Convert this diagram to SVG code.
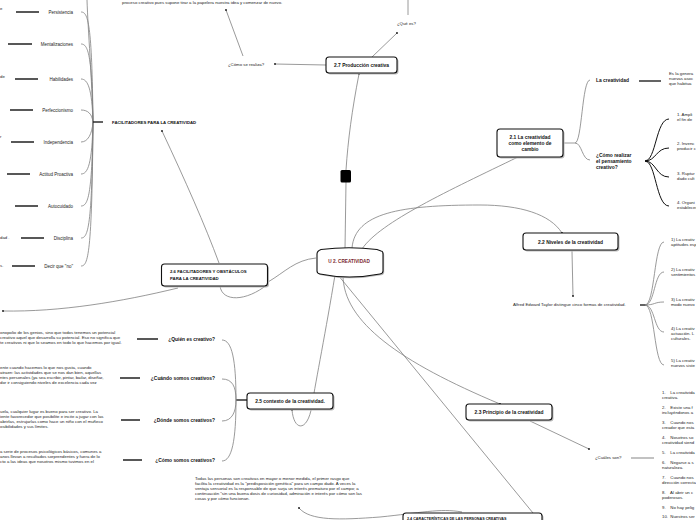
<svg xmlns="http://www.w3.org/2000/svg" width="696" height="520" viewBox="0 0 696 520">
<style>
text{font-family:"Liberation Sans",Arial,sans-serif;fill:#222}
.s{font-size:4.3px}
.it{font-size:4.5px}
.b{font-weight:bold;font-size:4.7px;fill:#111}
.q{font-weight:bold;font-size:4.9px;fill:#111}
.c{fill:none;stroke:#808080;stroke-width:0.8}
.k{fill:none;stroke:#222;stroke-width:1.4}
.kc{fill:none;stroke:#111;stroke-width:1}
.n{fill:#fff;stroke:#111;stroke-width:1.1}
.sh{fill:#bbb}
.d{fill:#111}
.pre{white-space:pre}
</style>
<rect width="696" height="520" fill="#fff"/>

<g id="connectors">
  <path class="c" d="M93,122 C92,80 88,30 87,0"/>
  <path class="c" d="M81,12 C88,12 92,22 93,122"/>
  <path class="c" d="M81,44 C88,44 92,54 93,122"/>
  <path class="c" d="M81,79 C88,79 92,89 93,122"/>
  <path class="c" d="M81,110 C88,110 92,114 93,122"/>
  <path class="c" d="M81,142 C88,142 92,134 93,122"/>
  <path class="c" d="M81,174 C88,174 92,164 93,122"/>
  <path class="c" d="M81,206 C88,206 92,196 93,122"/>
  <path class="c" d="M81,238 C88,238 92,228 93,122"/>
  <path class="c" d="M81,266 C88,266 92,256 93,122"/>
  <path class="k" d="M93,122 L103,122"/>
  <path class="k" d="M16,12 L39,12 M8,44 L32,44 M15,79 L38,79 M10,110 L33,110 M11,142 L34,142 M7,174 L30,174 M15,206 L38,206 M21,238 L44,238 M12,266 L35,266"/>
  <path class="c" d="M162,131 C185,180 205,225 219,263"/>
  <circle class="d" cx="162" cy="131" r="0.9"/>
  <path class="c" d="M178,288 C120,302 60,312 3,311"/>
  <circle class="d" cx="3" cy="311" r="0.9"/>
  <path class="c" d="M220,286 C222,302 246,302 268,284"/>
  <path class="c" d="M316,258 C295,260 285,272 268,282"/>
  <path class="c" d="M345,249 L346,182"/>
  <path class="c" d="M346,170 C348,140 352,110 359,74"/>
  <circle class="d" cx="359" cy="74" r="0.9"/>
  <path class="c" d="M326,65 L275,64"/>
  <circle class="d" cx="275" cy="64" r="0.9"/>
  <path class="c" d="M243,56 L226,10"/>
  <circle class="d" cx="226" cy="10" r="0.9"/>
  <path class="c" d="M372,57 L397,33"/>
  <circle class="d" cx="397" cy="33" r="0.9"/>
  <path class="c" d="M408,0 L408,15"/>
  <path class="c" d="M362,249 C380,222 450,190 518,157"/>
  <circle class="d" cx="518" cy="157" r="0.9"/>
  <path class="c" d="M352,248 C355,213 400,205 480,205 C520,205 550,214 562,233"/>
  <circle class="d" cx="562" cy="233" r="0.9"/>
  <path class="c" d="M563,143 L575,143 C582,143 582,80 590,80"/>
  <path class="c" d="M575,143 C582,143 582,160 590,160"/>
  <path class="k" d="M639,81 L661,81"/>
  <path class="kc" d="M645,161 C656,161 656,119 669,119"/>
  <path class="kc" d="M645,161 C656,161 656,148 669,148"/>
  <path class="kc" d="M645,161 C656,161 656,177 669,177"/>
  <path class="kc" d="M645,161 C656,161 656,206 669,206"/>
  <circle class="d" cx="647" cy="161" r="1.3"/>
  <path class="c" d="M572,251 L573,296"/>
  <circle class="d" cx="573" cy="296" r="0.9"/>
  <path class="k" d="M640,305 L646,305"/>
  <path class="c" d="M645,305 C655,305 654,242 664,242"/>
  <path class="c" d="M645,305 C655,305 654,272 664,272"/>
  <path class="c" d="M645,305 C655,305 654,302 664,302"/>
  <path class="c" d="M645,305 C655,305 654,332 664,332"/>
  <path class="c" d="M645,305 C655,305 654,365 664,365"/>
  <path class="c" d="M335,275 C326,330 316,380 312,405 C308,432 294,432 292,410"/>
  <circle class="d" cx="292" cy="410" r="0.9"/>
  <path class="c" d="M338,275 L533,513"/>
  <path class="c" d="M343,275 C343,322 400,362 500,404"/>
  <circle class="d" cx="500" cy="404" r="0.9"/>
  <path class="c" d="M530,421 L589,449"/>
  <circle class="d" cx="589" cy="449" r="0.9"/>
  <path d="M631,458 L654,458" stroke="#999" stroke-width="1.2" fill="none"/>
  <path class="c" d="M299,508 C310,521 340,520 380,517 C420,513 440,508 462,512"/>
  <circle class="d" cx="299" cy="508" r="0.9"/>
  <path class="k" d="M236,400 L247,400"/>
  <path class="c" d="M236,400 C236,360 232,340 222,340"/>
  <path class="c" d="M236,400 C236,386 232,379 222,379"/>
  <path class="c" d="M236,400 C236,412 232,421 222,421"/>
  <path class="c" d="M236,400 C236,440 232,461 222,461"/>
  <path class="k" d="M137,339 L158,339 M120,378 L140,378 M121,420 L140,420 M123,460 L142,460"/>
</g>

<g id="top-text">
  <text class="s" x="122" y="3.5">proceso creativo pues supone tirar a la papelera nuestra idea y comenzar de nuevo.</text>
</g>

<g id="facilitadores-items">
  <text class="s" x="0" y="10">e</text>
  <text class="s" x="0" y="78">de</text>
  <text class="s" x="0" y="138">r</text>
  <text class="s" x="0" y="239">dad .</text>
  <text class="s" x="0" y="267">s.</text>
  <text class="it" x="73" y="13.5" text-anchor="end">Persistencia</text>
  <text class="it" x="73" y="45.5" text-anchor="end">Mentalizaciones</text>
  <text class="it" x="73" y="80.5" text-anchor="end">Habilidades</text>
  <text class="it" x="73" y="111.5" text-anchor="end">Perfeccionismo</text>
  <text class="it" x="73" y="143.5" text-anchor="end">Independencia</text>
  <text class="it" x="73" y="175.5" text-anchor="end">Actitud Proactiva</text>
  <text class="it" x="73" y="207.5" text-anchor="end">Autocuidado</text>
  <text class="it" x="73" y="239.5" text-anchor="end">Disciplina</text>
  <text class="it" x="73" y="267.5" text-anchor="end">Decir que "no"</text>
</g>

<g id="facilitadores">
  <text class="b" x="112" y="123.5" style="font-size:4.3px">FACILITADORES PARA LA CREATIVIDAD</text>
</g>

<g id="node-26">
  <rect class="sh" x="163" y="265.5" width="106" height="22" rx="3"/>
  <rect class="n" x="161.5" y="264" width="106" height="22" rx="3"/>
  <text class="b" x="170" y="273" style="font-size:4.3px">2.6 FACILITADORES Y OBSTÁCULOS</text>
  <text class="b" x="170" y="279.5" style="font-size:4.3px">PARA LA CREATIVIDAD</text>
</g>

<g id="square">
  <rect x="340.5" y="170" width="10.5" height="12.5" rx="1.5" fill="#000"/>
</g>

<g id="node-u2">
  <path d="M321,249.5 Q349,246 377,249.5 L381,251 Q383,251 383,254 L383,271 Q383,273.5 380,274 Q349,280 320,274 Q317,273.5 317,271 L317,254 Q317,251 321,249.5 Z" fill="#bbb" transform="translate(1.2,1.2)"/>
  <path d="M321,249.5 Q349,246 377,249.5 L381,251 Q383,251 383,254 L383,271 Q383,273.5 380,274 Q349,280 320,274 Q317,273.5 317,271 L317,254 Q317,251 321,249.5 Z" fill="#fff" stroke="#111" stroke-width="1.1"/>
  <text class="q" x="349" y="263" text-anchor="middle" style="fill:#7a1f2e;font-size:4.7px">U 2. CREATIVIDAD</text>
</g>

<g id="node-27">
  <rect class="sh" x="327.5" y="58.5" width="71" height="16" rx="3"/>
  <rect class="n" x="326" y="57" width="71" height="16" rx="3"/>
  <text class="q" x="361.5" y="66.7" text-anchor="middle">2.7 Producción creativa</text>
</g>
<g id="como-realiza">
  <text class="s" x="228" y="65.5">¿Cómo se realiza?</text>
</g>
<g id="que-es">
  <text class="s" x="397" y="24.5">¿Qué es?</text>
</g>

<g id="node-21">
  <rect class="sh" x="498.5" y="130.5" width="66" height="28" rx="3"/>
  <rect class="n" x="497" y="129" width="66" height="28" rx="3"/>
  <text class="q" x="530" y="138.5" text-anchor="middle">2.1 La creatividad</text>
  <text class="q" x="530" y="144.8" text-anchor="middle">como elemento de</text>
  <text class="q" x="530" y="151.1" text-anchor="middle">cambio</text>
</g>
<g id="la-creatividad">
  <text class="q" x="596" y="81.5">La creatividad</text>
  <text class="s" x="669" y="75">Es la genera</text>
  <text class="s" x="669" y="80">nuevas asoc</text>
  <text class="s" x="669" y="85">que habitua</text>
</g>
<g id="como-realizar">
  <text class="q" x="596" y="156.5">¿Cómo realizar</text>
  <text class="q" x="596" y="162.5">el pensamiento</text>
  <text class="q" x="596" y="168.5">creativo?</text>
  <text class="s" x="677" y="116">1. Ampli</text>
  <text class="s" x="677" y="121">el fin de</text>
  <text class="s" x="677" y="145">2. Invenc</text>
  <text class="s" x="677" y="150">producir c</text>
  <text class="s" x="677" y="175">3. Ruptur</text>
  <text class="s" x="677" y="180">dado cult</text>
  <text class="s" x="677" y="204">4. Organi</text>
  <text class="s" x="677" y="209">establecer</text>
</g>

<g id="node-22">
  <rect class="sh" x="524.5" y="234.5" width="95" height="17" rx="3"/>
  <rect class="n" x="523" y="233" width="95" height="17" rx="3"/>
  <text class="q" x="570.5" y="243.5" text-anchor="middle">2.2 Niveles de la creatividad</text>
</g>
<g id="alfred">
  <text class="s" x="513" y="306">Alfred Edward Taylor distingue cinco formas de creatividad.</text>
  <text class="s" x="671" y="241">1) La creativ</text>
  <text class="s" x="671" y="246">aptitudes esp</text>
  <text class="s" x="671" y="271">2) La creativ</text>
  <text class="s" x="671" y="276">sentimientos</text>
  <text class="s" x="671" y="301">3) La creativ</text>
  <text class="s" x="671" y="306">modo nuevo</text>
  <text class="s" x="671" y="330">4) La creativ</text>
  <text class="s" x="671" y="335">actuación. L</text>
  <text class="s" x="671" y="340">culturales.</text>
  <text class="s" x="671" y="362">5) La creativ</text>
  <text class="s" x="671" y="367">nuevos siste</text>
</g>

<g id="node-23">
  <rect class="sh" x="467.5" y="405.5" width="86" height="16" rx="3"/>
  <rect class="n" x="466" y="404" width="86" height="16" rx="3"/>
  <text class="q" x="509" y="413.8" text-anchor="middle">2.3 Principio de la creatividad</text>
</g>
<g id="cuales">
  <text class="s" x="595" y="459">¿Cuáles son?</text>
  <text class="s pre" x="662" y="393.5">1.    La creativida</text>
  <text class="s" x="662" y="398.5">creativa.</text>
  <text class="s pre" x="662" y="408.5">2.    Existe una f</text>
  <text class="s" x="662" y="413.5">incluyéndonos a</text>
  <text class="s pre" x="662" y="423.5">3.    Cuando nos</text>
  <text class="s" x="662" y="428.5">creador que esta</text>
  <text class="s pre" x="662" y="438.5">4.    Nosotros so</text>
  <text class="s" x="662" y="443.5">creatividad siend</text>
  <text class="s pre" x="662" y="453.5">5.    La creativida</text>
  <text class="s pre" x="662" y="463.5">6.    Negarse a s</text>
  <text class="s" x="662" y="468.5">naturaleza.</text>
  <text class="s pre" x="662" y="478.5">7.    Cuando nos</text>
  <text class="s" x="662" y="483.5">dirección correcta</text>
  <text class="s pre" x="662" y="493.5">8.    Al abrir un c</text>
  <text class="s" x="662" y="498.5">poderosos.</text>
  <text class="s pre" x="662" y="508.5">9.    No hay pelig</text>
  <text class="s pre" x="662" y="518">10.  Nuestros ser</text>
</g>

<g id="node-24">
  <rect class="sh" x="404.5" y="514.5" width="139" height="14" rx="3"/>
  <rect class="n" x="403" y="513" width="139" height="14" rx="3"/>
  <text class="b" x="407" y="519.5" style="font-size:3.7px">2.4 CARACTERÍSTICAS DE LAS PERSONAS CREATIVAS</text>
</g>
<g id="todas">
  <text class="s" x="195" y="480">Todas las personas son creativas en mayor o menor medida, el primer rasgo que</text>
  <text class="s" x="195" y="485">facilita la creatividad es la "predisposición genética" para un campo dado.  A veces la</text>
  <text class="s" x="195" y="490">ventaja sensorial es la responsable de que surja un interés prematuro por el campo; a</text>
  <text class="s" x="195" y="495">continuación "sin una buena dosis de curiosidad, admiración e interés por cómo son las</text>
  <text class="s" x="195" y="500">cosas y por cómo funcionan.</text>
</g>

<g id="node-25">
  <rect class="sh" x="248.5" y="394.5" width="86" height="16" rx="3"/>
  <rect class="n" x="247" y="393" width="86" height="16" rx="3"/>
  <text class="q" x="290" y="402.6" text-anchor="middle">2.5 contexto de la creatividad.</text>
</g>
<g id="quien">
  <text class="q" x="215" y="340.5" text-anchor="end">¿Quién es creativo?</text>
  <text class="s" x="0" y="334">onopolio de los genios, sino que todos tenemos un potencial</text>
  <text class="s" x="0" y="339">creativo aquel que desarrolla su potencial. Eso no significa que</text>
  <text class="s" x="0" y="344">te creativos ni que lo seamos en todo lo que hacemos por igual.</text>
</g>
<g id="cuando">
  <text class="q" x="215" y="380" text-anchor="end">¿Cuándo somos creativos?</text>
  <text class="s" x="0" y="369">ente cuando hacemos lo que nos gusta, cuando</text>
  <text class="s" x="0" y="374">atraen: las actividades que se nos dan bien, aquellas</text>
  <text class="s" x="0" y="379">ntes personales (ya sea escribir, pintar, bailar, diseñar,</text>
  <text class="s" x="0" y="384">dor ir consiguiendo niveles de excelencia cada vez</text>
</g>
<g id="donde">
  <text class="q" x="215" y="422" text-anchor="end">¿Dónde somos creativos?</text>
  <text class="s" x="0" y="413">uela, cualquier lugar es bueno para ser creativo. La</text>
  <text class="s" x="0" y="418">iente favorecedor que posibilite e incite a jugar con las</text>
  <text class="s" x="0" y="423">abrirlas, estrujarlas como hace un niño con el muñeco</text>
  <text class="s" x="0" y="428">osibilidades y sus límites.</text>
</g>
<g id="como-somos">
  <text class="q" x="215" y="462" text-anchor="end">¿Cómo somos creativos?</text>
  <text class="s" x="0" y="453">a serie de procesos psicológicos básicos, comunes a</text>
  <text class="s" x="0" y="458">anos llevan a resultados sorprendentes y fuera de lo</text>
  <text class="s" x="0" y="463">cto a las ideas que nosotros mismo tuvimos en el</text>
</g>
</svg>
